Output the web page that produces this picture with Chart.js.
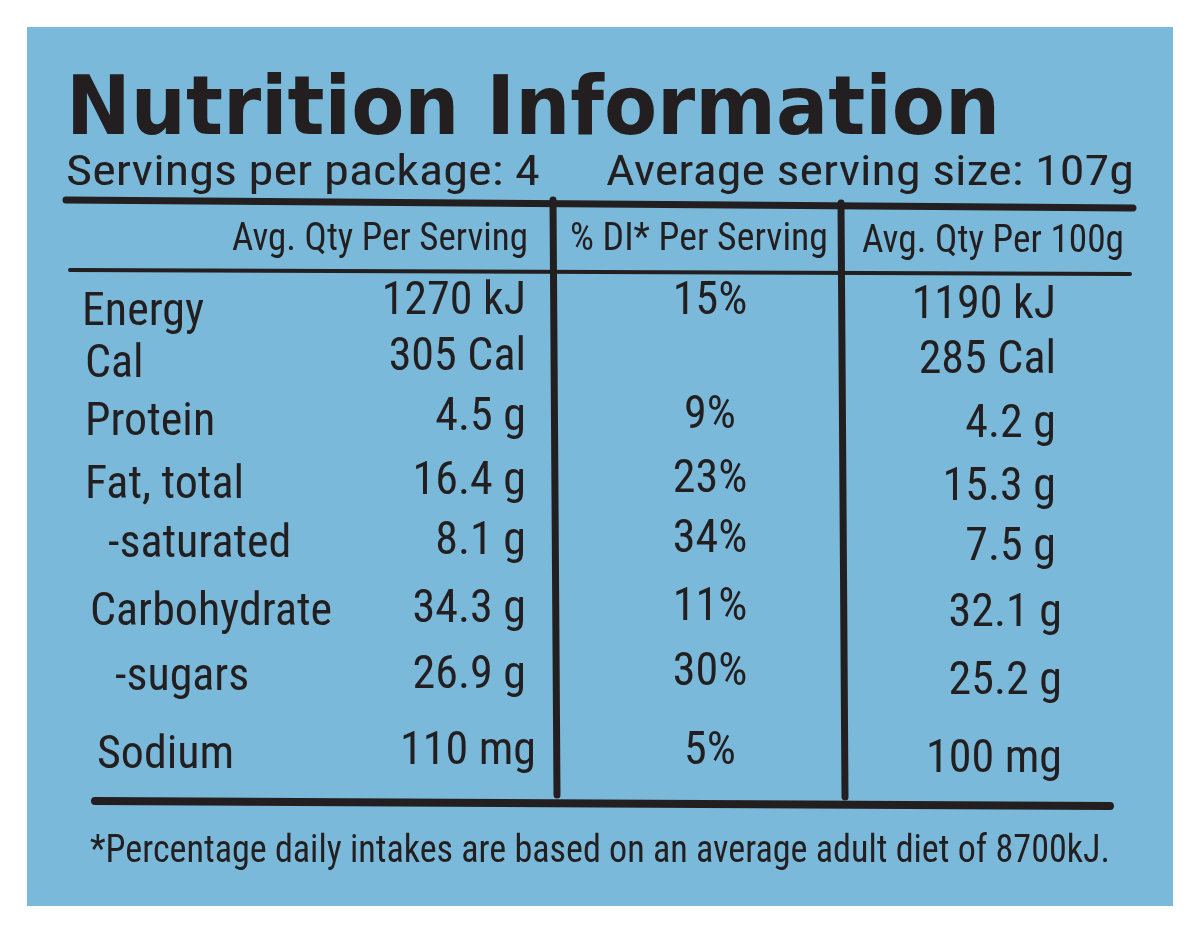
<!DOCTYPE html>
<html>
<head>
<meta charset="utf-8">
<script src="https://cdn.jsdelivr.net/npm/chart.js@4.4.0/dist/chart.umd.min.js"></script>
<style>
  html, body { margin: 0; padding: 0; background: #ffffff; }
  canvas { display: block; }
</style>
</head>
<body>
<canvas id="label" width="1200" height="933"></canvas>
<script>
// Nutrition panel data
const title = "Nutrition Information";
const servingsText = "Servings per package: 4";
const servingSizeText = "Average serving size: 107g";
const headers = ["Avg. Qty Per Serving", "% DI* Per Serving", "Avg. Qty Per 100g"];
const nutrients = ["Energy", "Cal", "Protein", "Fat, total", "-saturated", "Carbohydrate", "-sugars", "Sodium"];
const perServing = ["1270 kJ", "305 Cal", "4.5 g", "16.4 g", "8.1 g", "34.3 g", "26.9 g", "110 mg"];
const diPercent = ["15%", "", "9%", "23%", "34%", "11%", "30%", "5%"];
const per100g = ["1190 kJ", "285 Cal", "4.2 g", "15.3 g", "7.5 g", "32.1 g", "25.2 g", "100 mg"];
const footnote = "*Percentage daily intakes are based on an average adult diet of 8700kJ.";

// layout (in scale units, same as pixels here)
const labelX = [82, 85, 85, 85, 108, 90, 115, 97];
const labelY = [325, 377, 435, 498, 557, 625, 690, 768];
const servY = [314, 370, 430, 494, 554, 622, 688, 764];
const diY = [314, 0, 428, 492, 552, 620, 685, 764];
const hundredY = [318, 373, 437, 500, 560, 626, 694, 772];

const NARROW = '"Liberation Sans Narrow", "Roboto Condensed", "DejaVu Sans Condensed", sans-serif';
const INK = "#231f20";

const labelPlugin = {
  id: "nutritionPanel",
  afterDraw(chart) {
    const { ctx, scales: { x, y } } = chart;
    const px = v => x.getPixelForValue(v);
    const py = v => y.getPixelForValue(v);

    // blue panel
    ctx.save();
    ctx.fillStyle = "#7ab9d9";
    ctx.fillRect(px(27), py(27), px(1173) - px(27), py(906) - py(27));

    function text(t, xv, yv, size, align, opts = {}) {
      ctx.font = (opts.bold ? "bold " : "") + size + "px " + (opts.family || NARROW);
      ctx.fillStyle = INK;
      ctx.textBaseline = "alphabetic";
      ctx.textAlign = align || "left";
      if (opts.width) {
        const w = ctx.measureText(t).width;
        ctx.save();
        ctx.translate(px(xv), py(yv));
        ctx.scale(opts.width / w, 1);
        ctx.fillText(t, 0, 0);
        ctx.restore();
      } else {
        ctx.fillText(t, px(xv), py(yv));
      }
    }
    function line(x1, y1, x2, y2, w) {
      ctx.beginPath();
      ctx.strokeStyle = INK;
      ctx.lineWidth = w;
      ctx.lineCap = "round";
      ctx.moveTo(px(x1), py(y1));
      ctx.lineTo(px(x2), py(y2));
      ctx.stroke();
    }

    text(title, 66, 134, 82, "left", { bold: true, family: '"DejaVu Sans", sans-serif', width: 934 });
    text(servingsText, 66, 185, 42, "left", { width: 474 });
    text(servingSizeText, 1134, 185, 42, "right", { width: 528 });

    line(66, 200, 1133, 208, 7);
    line(553, 200, 557, 795, 7);
    line(841, 203, 845, 797, 7);
    line(70, 270, 1130, 274, 4);
    line(95, 801, 1110, 806, 8);

    text(headers[0], 528, 250, 38, "right", { width: 296 });
    text(headers[1], 570, 250, 38, "left", { width: 258 });
    text(headers[2], 862, 252, 38, "left", { width: 262 });

    nutrients.forEach((n, i) => {
      text(n, labelX[i], labelY[i], 46, "left");
      text(perServing[i], 526 + (i === 7 ? 10 : 0), servY[i], 46, "right");
      if (diPercent[i]) text(diPercent[i], 710, diY[i], 46, "center");
      text(per100g[i], 1056 + (i >= 5 ? 6 : 0), hundredY[i], 46, "right");
    });

    text(footnote, 600, 862, 38, "center", { width: 1020 });
    ctx.restore();
  }
};

new Chart(document.getElementById("label"), {
  type: "scatter",
  data: { datasets: [{ data: [], pointRadius: 0 }] },
  options: {
    responsive: false,
    animation: false,
    devicePixelRatio: 1,
    layout: { padding: 0 },
    plugins: { legend: { display: false }, tooltip: { enabled: false } },
    scales: {
      x: { type: "linear", min: 0, max: 1200, display: false },
      y: { type: "linear", min: 0, max: 933, reverse: true, display: false }
    }
  },
  plugins: [labelPlugin]
});
</script>
</body>
</html>
